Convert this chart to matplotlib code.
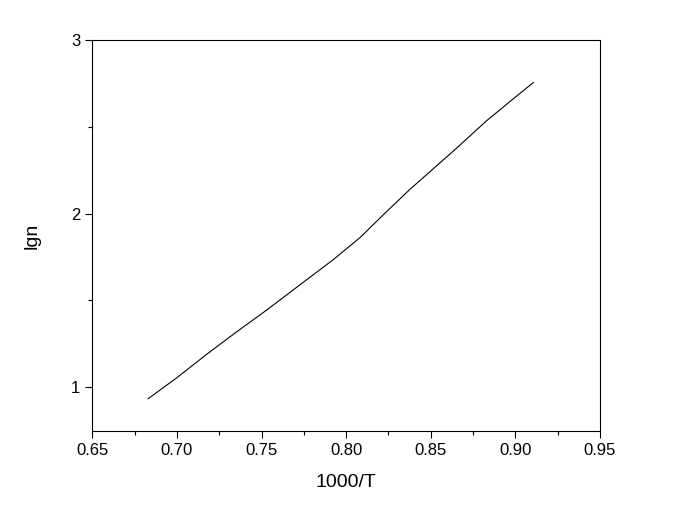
import matplotlib
matplotlib.use("Agg")
import matplotlib.pyplot as plt
from matplotlib.ticker import MultipleLocator

plt.rcParams['font.family'] = ['Liberation Sans', 'DejaVu Sans']

# values
inv_t = [0.683, 0.700, 0.7176, 0.735, 0.7531, 0.7727, 0.7924, 0.8082,
         0.820, 0.8377, 0.8633, 0.883, 0.898, 0.9106]
lgn = [0.934, 1.055, 1.190, 1.317, 1.445, 1.590, 1.735, 1.862,
       1.975, 2.140, 2.360, 2.535, 2.655, 2.755]

fig = plt.figure(figsize=(6.8, 5.08), dpi=100)
ax = fig.add_axes([92.3 / 680, 1 - 431 / 508, 507.7 / 680, 391 / 508])

ax.plot(inv_t, lgn, color='black', linewidth=0.8)

ax.set_xlim(0.65, 0.95)
ax.set_ylim(0.748, 3.0)
ax.xaxis.set_major_locator(MultipleLocator(0.05))
ax.xaxis.set_minor_locator(MultipleLocator(0.025))
ax.yaxis.set_major_locator(MultipleLocator(1))
ax.yaxis.set_minor_locator(MultipleLocator(0.5))
ax.xaxis.set_major_formatter(plt.FormatStrFormatter('%.2f'))

ax.tick_params(which='both', direction='out', top=False, right=False, labelsize=12, width=0.8)
ax.tick_params(which='major', length=5)
ax.tick_params(which='minor', length=3)
for s in ax.spines.values():
    s.set_linewidth(0.8)

ax.set_xlabel('1000/T', fontsize=14, labelpad=12)
ax.set_ylabel('lgn', fontsize=14, labelpad=22)

fig.savefig('out.png', dpi=100)
